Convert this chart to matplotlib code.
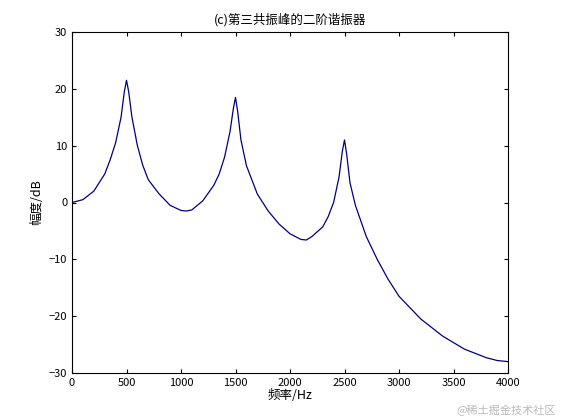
import matplotlib
matplotlib.use("Agg")
import matplotlib.pyplot as plt

plt.rcParams["font.family"] = ["Noto Sans CJK SC", "DejaVu Sans"]

# values
freq = [0, 100, 200, 300, 350, 400, 450, 480, 500, 520, 550, 600, 650, 700, 800, 900,
        1000, 1050, 1100, 1200, 1300, 1350, 1400, 1450, 1480, 1500, 1520, 1550, 1600,
        1700, 1800, 1900, 2000, 2100, 2150, 2200, 2300, 2350, 2400, 2450, 2480, 2500,
        2520, 2550, 2600, 2700, 2800, 2900, 3000, 3200, 3400, 3600, 3800, 3900, 4000]
gain = [0, 0.5, 2, 5, 7.5, 10.5, 15, 19.5, 21.5, 19.5, 15, 10, 6.5, 4, 1.5, -0.5,
        -1.4, -1.5, -1.3, 0.3, 3, 5, 8, 12.5, 16.5, 18.5, 16, 11, 6.5,
        1.5, -1.5, -3.8, -5.5, -6.5, -6.6, -6, -4.3, -2.5, 0, 4.5, 9, 11,
        8.5, 3.5, -0.5, -6, -10, -13.5, -16.5, -20.5, -23.5, -25.8, -27.3, -27.8, -28]
xticks = [0, 500, 1000, 1500, 2000, 2500, 3000, 3500, 4000]
yticks = [-30, -20, -10, 0, 10, 20, 30]

fig = plt.figure(figsize=(5.61, 4.2), dpi=100)
ax = fig.add_axes([72 / 561, 47 / 420, 436 / 561, 341 / 420])
ax.plot(freq, gain, color="#00007f", linewidth=0.9)
ax.set_xlim(0, 4000)
ax.set_ylim(-30, 30)
ax.set_xticks(xticks)
ax.set_yticks(yticks)
ax.tick_params(direction="in", labelsize=8, top=True, right=True, length=3)
ax.set_title("(c)第三共振峰的二阶谐振器", fontsize=9)
ax.set_xlabel("频率/Hz", fontsize=9, labelpad=1)
ax.set_ylabel("幅度/dB", fontsize=9)
fig.text(0.99, 0.01, "@稀土掘金技术社区", ha="right", va="bottom", fontsize=8, color="#bbbbbb")
fig.savefig("out.png", dpi=100)
